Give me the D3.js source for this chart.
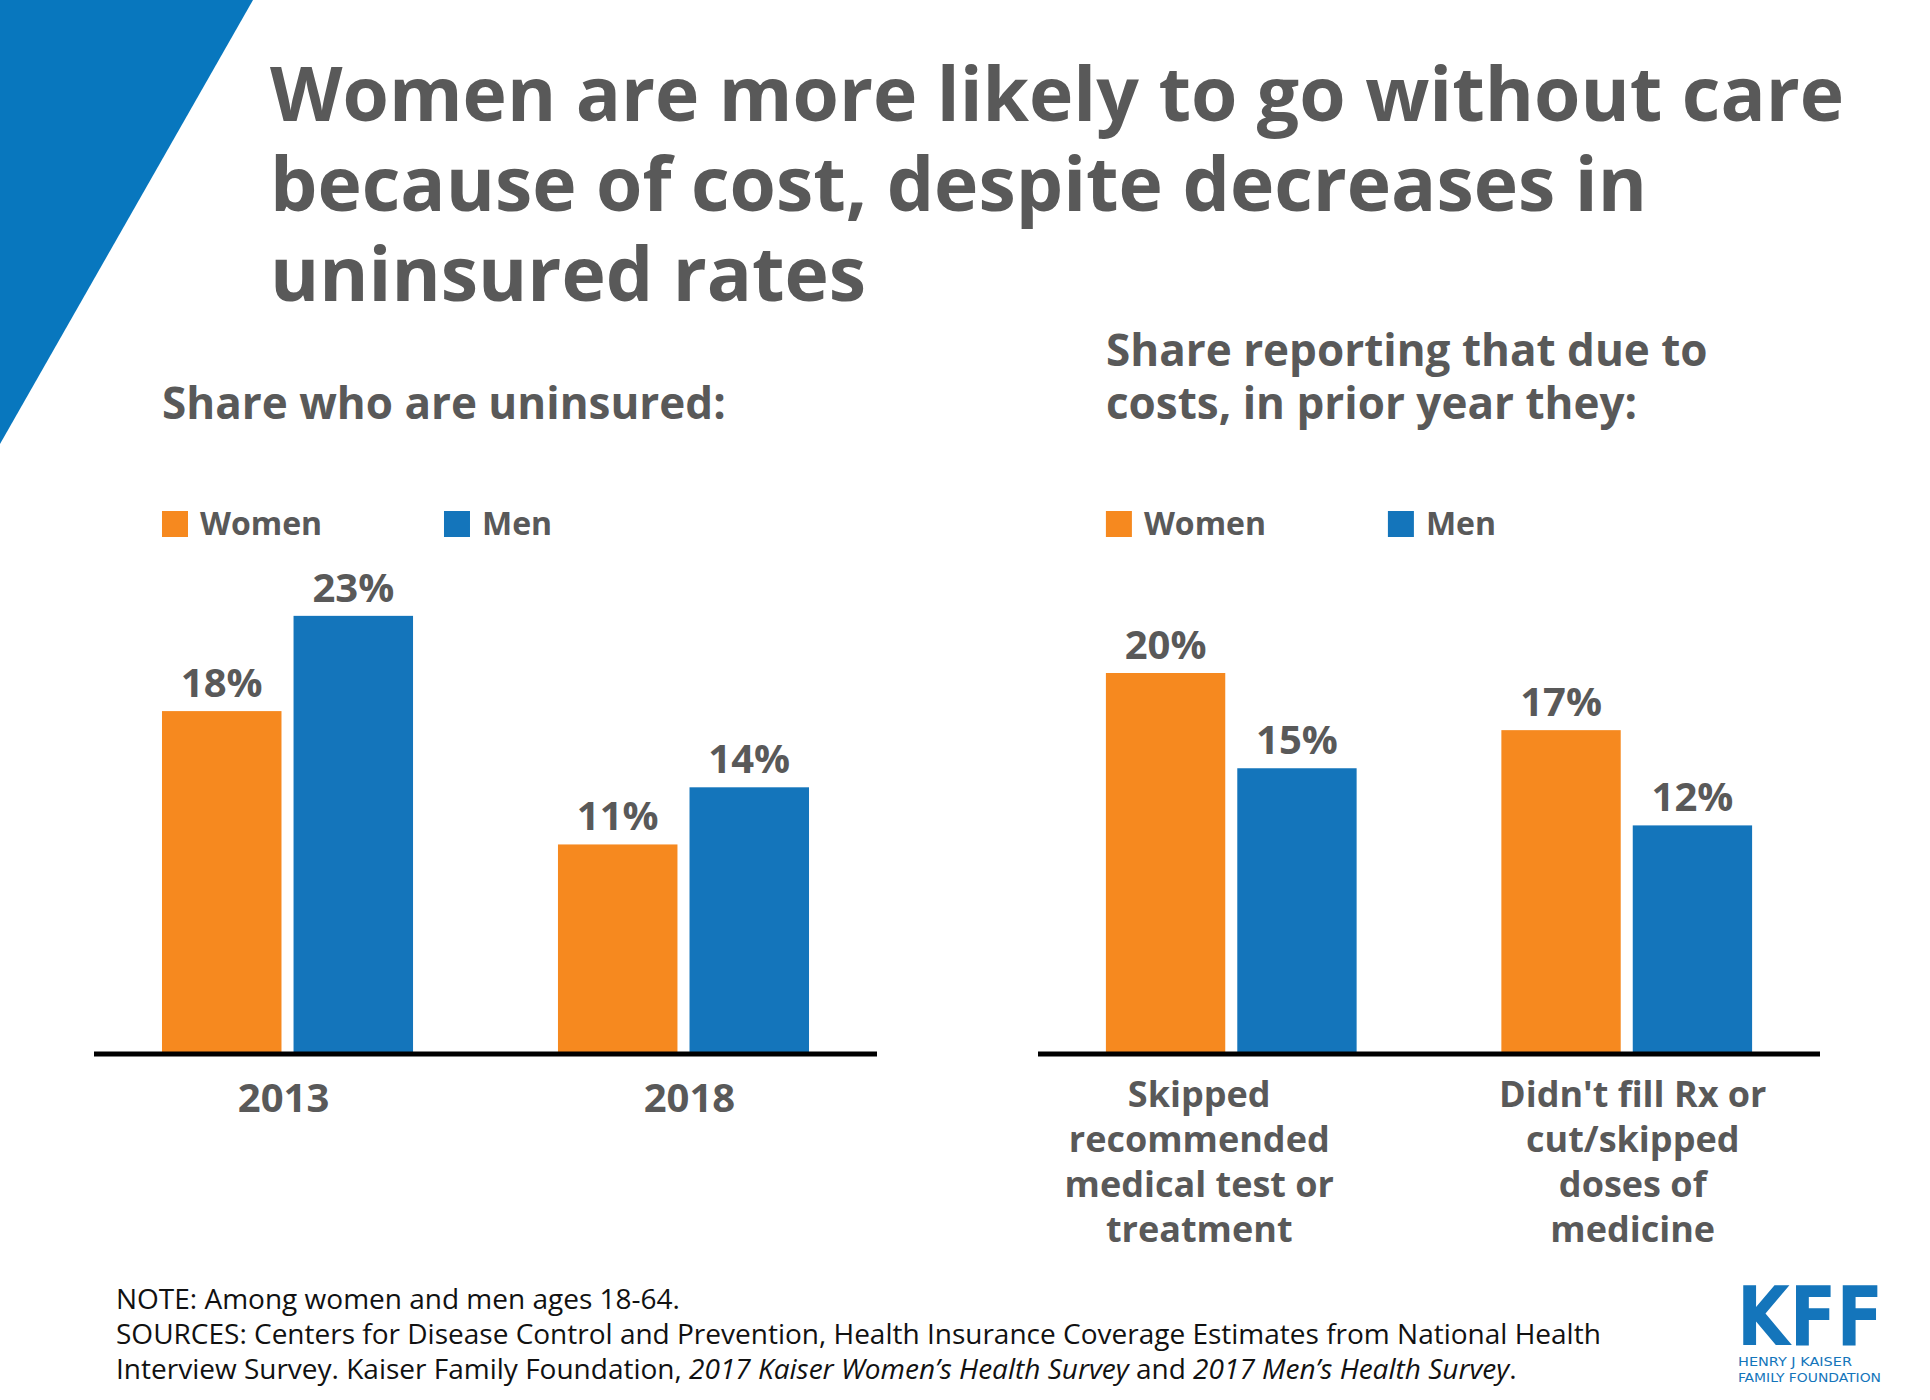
<!DOCTYPE html>
<html>
<head>
  <meta charset="utf-8">
  <title>Women are more likely to go without care</title>
  <script src="https://cdn.jsdelivr.net/npm/d3@7/dist/d3.min.js"></script>
  <style>
    body { margin: 0; background: #fff; }
    svg { display: block; font-family: 'Open Sans', sans-serif; }
    .ink { fill: #595959; }
  </style>
</head>
<body>
<svg id="chart" width="1930" height="1400"></svg>
<script>
  // data
  const series = ['Women', 'Men'];
  const years = ['2013', '2018'];
  const uninsured = { Women: [18, 11], Men: [23, 14] };
  const reasons = [
    ['Skipped', 'recommended', 'medical test or', 'treatment'],
    ["Didn't fill Rx or", 'cut/skipped', 'doses of', 'medicine']
  ];
  const skipped = { Women: [20, 17], Men: [15, 12] };

  const colors = { Women: '#F6891F', Men: '#1475BB' };

  const svg = d3.select('#chart');

  // corner triangle
  svg.append('path')
    .attr('d', 'M0,0 L253,0 L0,444 Z')
    .attr('fill', '#0877BE');

  // title
  const title = ['Women are more likely to go without care',
    'because of cost, despite decreases in', 'uninsured rates'];
  svg.append('text')
    .attr('class', 'ink')
    .attr('font-size', 75)
    .attr('font-weight', 700)
    .selectAll('tspan')
    .data(title)
    .join('tspan')
    .attr('x', 270)
    .attr('y', (d, i) => 121 + i * 90)
    .text(d => d);

  const baseY = 1054;
  const y = d3.scaleLinear().domain([0, 25]).range([baseY, baseY - 25 * 19.05]);

  function panel(opts) {
    const g = svg.append('g');

    // subtitle
    g.append('text')
      .attr('class', 'ink')
      .attr('font-size', 44)
      .attr('font-weight', 700)
      .selectAll('tspan')
      .data(opts.subtitle)
      .join('tspan')
      .attr('x', opts.left + 68)
      .attr('y', (d, i) => opts.subY + i * 53)
      .text(d => d);

    const x0 = d3.scaleBand()
      .domain(opts.cats.map((c, i) => i))
      .range([opts.left, opts.right])
      .paddingInner(0.366)
      .paddingOuter(0.1717);

    const x1 = d3.scaleBand()
      .domain(series)
      .range([0, x0.bandwidth()])
      .paddingInner(0.0916);

    // legend
    const lg = g.selectAll('.legend')
      .data(series)
      .join('g')
      .attr('class', 'legend')
      .attr('transform', (d, i) => `translate(${x0(0) + i * 282}, 511)`);
    lg.append('rect')
      .attr('width', 26)
      .attr('height', 26)
      .attr('fill', d => colors[d]);
    lg.append('text')
      .attr('class', 'ink')
      .attr('x', 38)
      .attr('y', 24)
      .attr('font-size', 32)
      .attr('font-weight', 700)
      .text(d => d);

    // bars
    const groups = g.selectAll('.grp')
      .data(opts.cats.map((c, i) => i))
      .join('g')
      .attr('class', 'grp')
      .attr('transform', d => `translate(${x0(d)}, 0)`);

    const bars = groups.selectAll('.bar')
      .data(i => series.map(s => ({ s: s, v: opts.values[s][i] })))
      .join('g')
      .attr('class', 'bar');

    bars.append('rect')
      .attr('x', d => x1(d.s))
      .attr('y', d => y(d.v))
      .attr('width', x1.bandwidth())
      .attr('height', d => y(0) - y(d.v))
      .attr('fill', d => colors[d.s]);

    bars.append('text')
      .attr('class', 'ink')
      .attr('x', d => x1(d.s) + x1.bandwidth() / 2)
      .attr('y', d => y(d.v) - 14)
      .attr('text-anchor', 'middle')
      .attr('font-size', 40)
      .attr('font-weight', 700)
      .text(d => d.v + '%');

    // baseline
    g.append('line')
      .attr('x1', opts.left)
      .attr('x2', opts.right)
      .attr('y1', baseY)
      .attr('y2', baseY)
      .attr('stroke', '#000')
      .attr('stroke-width', 5);

    // category labels
    groups.append('text')
      .attr('class', 'ink')
      .attr('text-anchor', 'middle')
      .attr('font-size', opts.labelSize)
      .attr('font-weight', 700)
      .selectAll('tspan')
      .data(i => [].concat(opts.cats[i]).map(t => ({ t: t, i: i })))
      .join('tspan')
      .attr('x', d => x0.bandwidth() / 2 + opts.labelDx[d.i])
      .attr('y', (d, j) => opts.labelY + j * 45)
      .text(d => d.t);
  }

  panel({
    left: 94, right: 877,
    subtitle: ['Share who are uninsured:'], subY: 419,
    cats: years, values: uninsured,
    labelY: 1112, labelSize: 40, labelDx: [-4, 6]
  });

  panel({
    left: 1038, right: 1820,
    subtitle: ['Share reporting that due to', 'costs, in prior year they:'], subY: 366,
    cats: reasons, values: skipped,
    labelY: 1107, labelSize: 36, labelDx: [-32, 6]
  });

  // notes
  const foot = svg.append('text')
    .attr('fill', '#111')
    .attr('font-size', 28);
  foot.append('tspan').attr('x', 116).attr('y', 1309)
    .text('NOTE: Among women and men ages 18-64.');
  foot.append('tspan').attr('x', 116).attr('y', 1344)
    .text('SOURCES: Centers for Disease Control and Prevention, Health Insurance Coverage Estimates from National Health');
  const l3 = foot.append('tspan').attr('x', 116).attr('y', 1379);
  l3.append('tspan').text('Interview Survey. Kaiser Family Foundation, ');
  l3.append('tspan').attr('font-style', 'italic').text('2017 Kaiser Women\u2019s Health Survey');
  l3.append('tspan').text(' and ');
  l3.append('tspan').attr('font-style', 'italic').text('2017 Men\u2019s Health Survey');
  l3.append('tspan').text('.');

  // logo
  const logo = svg.append('g').attr('fill', '#1475BB');
  logo.append('text')
    .attr('x', 1737).attr('y', 1345)
    .attr('font-family', 'DejaVu Sans')
    .attr('font-weight', 700)
    .attr('font-size', 82)
    .attr('textLength', 146)
    .attr('lengthAdjust', 'spacingAndGlyphs')
    .text('KFF');
  logo.append('text')
    .attr('x', 1738).attr('y', 1366)
    .attr('font-family', 'DejaVu Sans Condensed, DejaVu Sans')
    .attr('font-size', 12)
    .attr('textLength', 114)
    .attr('lengthAdjust', 'spacingAndGlyphs')
    .text('HENRY J KAISER');
  logo.append('text')
    .attr('x', 1738).attr('y', 1382)
    .attr('font-family', 'DejaVu Sans Condensed, DejaVu Sans')
    .attr('font-size', 12)
    .attr('textLength', 143)
    .attr('lengthAdjust', 'spacingAndGlyphs')
    .text('FAMILY FOUNDATION');
</script>
</body>
</html>
